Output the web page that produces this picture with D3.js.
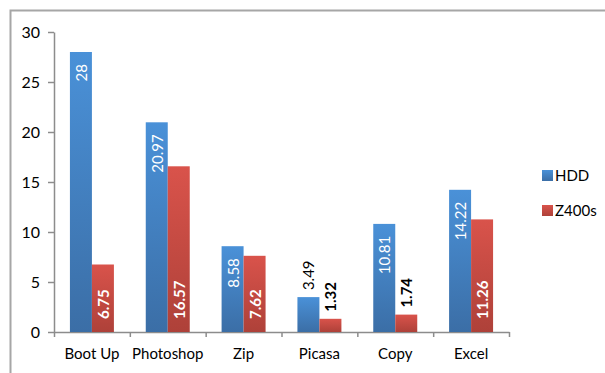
<!DOCTYPE html>
<html>
<head>
<meta charset="utf-8">
<script src="https://cdn.jsdelivr.net/npm/d3@7"></script>
<style>
  body { margin: 0; background: #fff; }
  text { font-family: Lato, "Open Sans", sans-serif; }
</style>
</head>
<body>
<div id="chart"></div>
<script>
var categories = ["Boot Up", "Photoshop", "Zip", "Picasa", "Copy", "Excel"];
var series = ["HDD", "Z400s"];
var hddValues = [28, 20.97, 8.58, 3.49, 10.81, 14.22];
var z400Values = [6.75, 16.57, 7.62, 1.32, 1.74, 11.26];
var yTicks = [0, 5, 10, 15, 20, 25, 30];

var W = 605, H = 373;
var plotLeft = 54, plotRight = 509, plotTop = 32, plotBottom = 332;

var svg = d3.select("#chart").append("svg")
    .attr("width", W)
    .attr("height", H);

// gradients like the excel bars
var defs = svg.append("defs");
var grads = {HDD: ["#4a91d8", "#3b6ea6"], Z400s: ["#d9534b", "#ae4139"]};
series.forEach(function(s) {
    var g = defs.append("linearGradient")
        .attr("id", "g" + s)
        .attr("x1", 0).attr("y1", 0).attr("x2", 0).attr("y2", 1);
    g.append("stop").attr("offset", "0%").attr("stop-color", grads[s][0]);
    g.append("stop").attr("offset", "100%").attr("stop-color", grads[s][1]);
});

// outer frame (only top & left visible)
svg.append("path")
    .attr("d", "M10.5," + H + "V10.5H" + W)
    .attr("fill", "none")
    .attr("stroke", "#a6a6a6")
    .attr("stroke-width", 2);

var x0 = d3.scaleBand().domain(categories).range([plotLeft, plotRight])
    .paddingInner(0.42).paddingOuter(0.21);
var x1 = d3.scaleBand().domain(series).range([0, x0.bandwidth()]);
var y = d3.scaleLinear().domain([0, 30]).range([plotBottom, plotTop]);
var xEdges = d3.scaleLinear().domain([0, categories.length]).range([plotLeft, plotRight]);

var data = categories.map(function(c, i) {
    return {cat: c, values: [
        {s: "HDD", v: hddValues[i]},
        {s: "Z400s", v: z400Values[i]}
    ]};
});

// axes
var yAxis = svg.append("g")
    .attr("transform", "translate(" + plotLeft + ",0)")
    .call(d3.axisLeft(y).tickValues(yTicks).tickSize(6).tickPadding(8).tickSizeOuter(0));
yAxis.selectAll("text").attr("font-size", 16).attr("fill", "#000")
    .style("font-family", "Lato, sans-serif");

var xAxis = svg.append("g")
    .attr("transform", "translate(0," + plotBottom + ")")
    .call(d3.axisBottom(xEdges).tickValues(d3.range(categories.length + 1))
        .tickFormat("").tickSize(5).tickSizeOuter(0));

svg.selectAll(".domain, .tick line").attr("stroke", "#8c8c8c").attr("stroke-width", 1.5);

// bars
var groups = svg.selectAll(".grp")
    .data(data)
    .enter().append("g")
    .attr("class", "grp")
    .attr("transform", function(d) { return "translate(" + x0(d.cat) + ",0)"; });

groups.selectAll("rect")
    .data(function(d) { return d.values; })
    .enter().append("rect")
    .attr("x", function(d) { return x1(d.s); })
    .attr("y", function(d) { return y(d.v); })
    .attr("width", x1.bandwidth())
    .attr("height", function(d) { return y(0) - y(d.v); })
    .attr("fill", function(d) { return "url(#g" + d.s + ")"; });

// data labels, rotated
groups.selectAll(".lbl")
    .data(function(d) { return d.values; })
    .enter().append("text")
    .attr("class", "lbl")
    .attr("transform", function(d) {
        var cx = x1(d.s) + x1.bandwidth() / 2;
        var ty;
        var h = y(0) - y(d.v);
        if (h < 40) ty = y(d.v) - 7;              // outside, above bar
        else if (d.s == "HDD") ty = y(d.v) + 12;  // inside end
        else ty = y(0) - 13;                      // inside base
        return "translate(" + cx + "," + ty + ") rotate(-90)";
    })
    .attr("text-anchor", function(d) {
        var h = y(0) - y(d.v);
        if (h < 40) return "start";
        return d.s == "HDD" ? "end" : "start";
    })
    .attr("dominant-baseline", "central")
    .attr("font-size", 15)
    .attr("font-weight", function(d) { return d.s == "Z400s" ? "bold" : "normal"; })
    .attr("fill", function(d) { return (y(0) - y(d.v)) < 40 ? "#000" : "#fff"; })
    .text(function(d) { return d.v; });

// category labels
svg.selectAll(".cat")
    .data(categories)
    .enter().append("text")
    .attr("class", "cat")
    .attr("x", function(d) { return x0(d) + x0.bandwidth() / 2; })
    .attr("y", 359)
    .attr("text-anchor", "middle")
    .attr("font-size", 15)
    .text(function(d) { return d; });

// legend
var legend = svg.selectAll(".leg")
    .data(series)
    .enter().append("g")
    .attr("class", "leg")
    .attr("transform", function(d, i) { return "translate(542," + (170 + i * 35) + ")"; });
legend.append("rect")
    .attr("width", 11).attr("height", 11)
    .attr("fill", function(d) { return "url(#g" + d + ")"; });
legend.append("text")
    .attr("x", 13).attr("y", 11)
    .attr("font-size", 15)
    .text(function(d) { return d; });
</script>
</body>
</html>
